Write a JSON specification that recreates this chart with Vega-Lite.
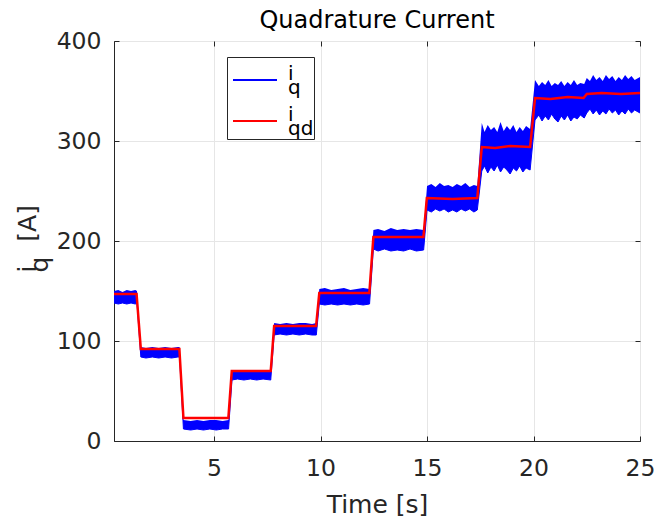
{
  "$schema": "https://vega.github.io/schema/vega-lite/v6.json",
  "width": 526,
  "height": 400,
  "autosize": {"type": "none"},
  "padding": {"left": 114, "top": 41, "right": 15, "bottom": 85},
  "background": "white",
  "title": {"text": "Quadrature Current", "fontSize": 24, "fontWeight": "normal", "color": "#000000", "font": "DejaVu Sans", "anchor": "middle", "frame": "group", "offset": 9, "dy": 13},
  "config": {
    "font": "DejaVu Sans",
    "view": {"stroke": "#262626", "strokeWidth": 1},
    "style": {"guide-label": {"lineHeight": 14}},
    "axis": {"labelFont": "DejaVu Sans", "titleFont": "DejaVu Sans", "labelFontSize": 23.5, "titleFontSize": 24, "labelColor": "#262626", "titleColor": "#262626", "titleFontWeight": "normal", "domainColor": "#262626", "tickColor": "#262626", "gridColor": "#e6e6e6", "gridWidth": 1, "tickSize": -5, "labelFlush": false}
  },
  "datasets": {
    "iq": [
      {"t": 0.3, "lo": 138, "hi": 150}, {"t": 0.5, "lo": 137, "hi": 151}, {"t": 0.7, "lo": 138, "hi": 149}, {"t": 0.9, "lo": 137, "hi": 151}, {"t": 1.1, "lo": 138, "hi": 150}, {"t": 1.3, "lo": 137, "hi": 151}, {"t": 1.38, "lo": 138, "hi": 150},
      {"t": 1.56, "lo": 84, "hi": 94}, {"t": 1.8, "lo": 83, "hi": 93}, {"t": 2.1, "lo": 84, "hi": 94}, {"t": 2.4, "lo": 83, "hi": 93}, {"t": 2.7, "lo": 84, "hi": 94}, {"t": 3.0, "lo": 83, "hi": 93}, {"t": 3.3, "lo": 84, "hi": 94}, {"t": 3.38, "lo": 84, "hi": 94},
      {"t": 3.56, "lo": 12, "hi": 21}, {"t": 3.9, "lo": 11, "hi": 20}, {"t": 4.2, "lo": 12, "hi": 21}, {"t": 4.5, "lo": 11, "hi": 20}, {"t": 4.8, "lo": 12, "hi": 21}, {"t": 5.1, "lo": 11, "hi": 21}, {"t": 5.4, "lo": 12, "hi": 20}, {"t": 5.68, "lo": 12, "hi": 21},
      {"t": 5.84, "lo": 61, "hi": 70}, {"t": 6.1, "lo": 62, "hi": 70}, {"t": 6.4, "lo": 61, "hi": 71}, {"t": 6.7, "lo": 62, "hi": 70}, {"t": 7.0, "lo": 61, "hi": 70}, {"t": 7.3, "lo": 62, "hi": 71}, {"t": 7.66, "lo": 61, "hi": 70},
      {"t": 7.82, "lo": 106, "hi": 118}, {"t": 8.1, "lo": 107, "hi": 117}, {"t": 8.4, "lo": 106, "hi": 118}, {"t": 8.7, "lo": 107, "hi": 117}, {"t": 9.0, "lo": 106, "hi": 118}, {"t": 9.3, "lo": 107, "hi": 118}, {"t": 9.6, "lo": 106, "hi": 117}, {"t": 9.8, "lo": 106, "hi": 118},
      {"t": 9.94, "lo": 137, "hi": 152}, {"t": 10.2, "lo": 136, "hi": 153}, {"t": 10.5, "lo": 137, "hi": 151}, {"t": 10.8, "lo": 136, "hi": 152}, {"t": 11.1, "lo": 137, "hi": 153}, {"t": 11.4, "lo": 136, "hi": 151}, {"t": 11.7, "lo": 137, "hi": 152}, {"t": 12.0, "lo": 136, "hi": 153}, {"t": 12.3, "lo": 137, "hi": 152},
      {"t": 12.48, "lo": 192, "hi": 211}, {"t": 12.7, "lo": 190, "hi": 212}, {"t": 13.0, "lo": 192, "hi": 210}, {"t": 13.3, "lo": 190, "hi": 213}, {"t": 13.6, "lo": 191, "hi": 211}, {"t": 13.9, "lo": 190, "hi": 212}, {"t": 14.2, "lo": 192, "hi": 211}, {"t": 14.5, "lo": 190, "hi": 212}, {"t": 14.84, "lo": 191, "hi": 211},
      {"t": 15.0, "lo": 231, "hi": 255}, {"t": 15.2, "lo": 229, "hi": 257}, {"t": 15.4, "lo": 232, "hi": 254}, {"t": 15.6, "lo": 230, "hi": 258}, {"t": 15.8, "lo": 232, "hi": 255}, {"t": 16.0, "lo": 229, "hi": 256}, {"t": 16.2, "lo": 231, "hi": 254}, {"t": 16.4, "lo": 229, "hi": 257}, {"t": 16.6, "lo": 232, "hi": 255}, {"t": 16.8, "lo": 230, "hi": 258}, {"t": 17.0, "lo": 232, "hi": 254}, {"t": 17.2, "lo": 229, "hi": 256}, {"t": 17.36, "lo": 231, "hi": 255},
      {"t": 17.57, "lo": 270, "hi": 318}, {"t": 17.7, "lo": 275, "hi": 309}, {"t": 17.85, "lo": 268, "hi": 316}, {"t": 18.0, "lo": 274, "hi": 311}, {"t": 18.15, "lo": 270, "hi": 314}, {"t": 18.3, "lo": 276, "hi": 309}, {"t": 18.45, "lo": 269, "hi": 319}, {"t": 18.6, "lo": 274, "hi": 310}, {"t": 18.75, "lo": 271, "hi": 315}, {"t": 18.9, "lo": 267, "hi": 311}, {"t": 19.05, "lo": 273, "hi": 316}, {"t": 19.2, "lo": 270, "hi": 309}, {"t": 19.35, "lo": 275, "hi": 314}, {"t": 19.5, "lo": 269, "hi": 310}, {"t": 19.65, "lo": 273, "hi": 315}, {"t": 19.84, "lo": 271, "hi": 312},
      {"t": 20.07, "lo": 321, "hi": 361}, {"t": 20.25, "lo": 326, "hi": 355}, {"t": 20.4, "lo": 320, "hi": 359}, {"t": 20.55, "lo": 325, "hi": 356}, {"t": 20.7, "lo": 321, "hi": 361}, {"t": 20.85, "lo": 327, "hi": 355}, {"t": 21.0, "lo": 322, "hi": 358}, {"t": 21.15, "lo": 319, "hi": 356}, {"t": 21.3, "lo": 325, "hi": 360}, {"t": 21.45, "lo": 321, "hi": 355}, {"t": 21.6, "lo": 326, "hi": 359}, {"t": 21.75, "lo": 320, "hi": 356}, {"t": 21.9, "lo": 324, "hi": 361}, {"t": 22.05, "lo": 322, "hi": 356}, {"t": 22.2, "lo": 326, "hi": 358}, {"t": 22.38, "lo": 323, "hi": 357},
      {"t": 22.5, "lo": 328, "hi": 363}, {"t": 22.65, "lo": 332, "hi": 360}, {"t": 22.8, "lo": 327, "hi": 366}, {"t": 22.95, "lo": 331, "hi": 361}, {"t": 23.1, "lo": 326, "hi": 364}, {"t": 23.25, "lo": 330, "hi": 360}, {"t": 23.4, "lo": 327, "hi": 366}, {"t": 23.55, "lo": 332, "hi": 362}, {"t": 23.7, "lo": 328, "hi": 365}, {"t": 23.85, "lo": 331, "hi": 360}, {"t": 24.0, "lo": 326, "hi": 364}, {"t": 24.15, "lo": 330, "hi": 361}, {"t": 24.3, "lo": 327, "hi": 366}, {"t": 24.45, "lo": 332, "hi": 362}, {"t": 24.6, "lo": 328, "hi": 365}, {"t": 24.75, "lo": 331, "hi": 361}, {"t": 25.0, "lo": 328, "hi": 364}
    ],
    "iqd": [
      {"t": 0.3, "v": 147}, {"t": 1.36, "v": 147}, {"t": 1.56, "v": 92}, {"t": 3.37, "v": 92}, {"t": 3.56, "v": 23}, {"t": 5.67, "v": 23}, {"t": 5.83, "v": 70}, {"t": 7.66, "v": 70}, {"t": 7.82, "v": 115}, {"t": 9.79, "v": 115}, {"t": 9.94, "v": 148}, {"t": 12.29, "v": 148}, {"t": 12.48, "v": 204}, {"t": 14.83, "v": 204}, {"t": 14.99, "v": 243}, {"t": 16.2, "v": 242}, {"t": 17.36, "v": 243}, {"t": 17.57, "v": 294}, {"t": 18.2, "v": 293}, {"t": 18.9, "v": 295}, {"t": 19.84, "v": 294}, {"t": 20.07, "v": 343}, {"t": 20.8, "v": 342}, {"t": 21.6, "v": 344}, {"t": 22.35, "v": 343}, {"t": 22.5, "v": 347}, {"t": 23.2, "v": 348}, {"t": 24.1, "v": 347}, {"t": 25.0, "v": 348}
    ]
  },
  "layer": [
    {
      "data": {"name": "iq"},
      "mark": {"type": "area", "color": "#0000ff", "opacity": 1},
      "encoding": {
        "x": {"field": "t", "type": "quantitative", "scale": {"domain": [0.3, 25], "nice": false, "zero": false},
              "axis": {"orient": "bottom", "values": [5, 10, 15, 20, 25], "grid": true, "labelBaseline": "alphabetic", "labelPadding": 39, "title": "Time [s]", "titleFontSize": 25, "titleX": 263, "titleY": 71, "titleBaseline": "alphabetic", "titleAnchor": null}},
        "y": {"field": "lo", "type": "quantitative", "scale": {"domain": [0, 400], "nice": false, "zero": false},
              "axis": {"orient": "left", "values": [0, 100, 200, 300, 400], "grid": true, "labelPadding": 18,
                       "title": ["i\u00a0\u00a0\u00a0[A]", "\u00a0\u00a0q"], "titleFontSize": 25, "titleLineHeight": 12, "titleAngle": 270, "titleAlign": "left", "titleBaseline": "alphabetic", "titleX": -79, "titleY": 231}},
        "y2": {"field": "hi"}
      }
    },
    {
      "data": {"name": "iq"},
      "mark": {"type": "line", "strokeWidth": 1},
      "encoding": {
        "x": {"field": "t", "type": "quantitative", "axis": null},
        "y": {"field": "lo", "type": "quantitative", "axis": null},
        "color": {"datum": "iq", "type": "nominal", "scale": {"domain": ["iq", "iqd"], "range": ["#0000ff", "#ff0000"]},
                  "legend": {"orient": "none", "legendX": 113, "legendY": 16, "title": null, "symbolType": "stroke", "symbolSize": 1936, "symbolStrokeWidth": 2, "symbolOffset": 5, "labelFontSize": 20, "labelFont": "DejaVu Sans", "labelColor": "#000000", "labelBaseline": "alphabetic", "strokeColor": "#262626", "fillColor": "white", "padding": 0, "rowPadding": -3, "labelOffset": 10, "labelLimit": 0,
                             "labelExpr": "datum.value == 'iq' ? ['i', '\u00a0q'] : ['i', '\u00a0qd']"}}
      }
    },
    {
      "data": {"name": "iqd"},
      "mark": {"type": "line", "strokeWidth": 2.5},
      "encoding": {
        "x": {"field": "t", "type": "quantitative", "axis": {"orient": "top", "values": [5, 10, 15, 20, 25], "labels": false, "domain": false, "grid": false, "title": null, "minExtent": 0, "maxExtent": 0}},
        "y": {"field": "v", "type": "quantitative", "axis": {"orient": "right", "values": [0, 100, 200, 300, 400], "labels": false, "domain": false, "grid": false, "title": null, "minExtent": 0, "maxExtent": 0}},
        "color": {"datum": "iqd", "type": "nominal"}
      }
    }
  ],
  "resolve": {"axis": {"x": "independent", "y": "independent"}}
}
